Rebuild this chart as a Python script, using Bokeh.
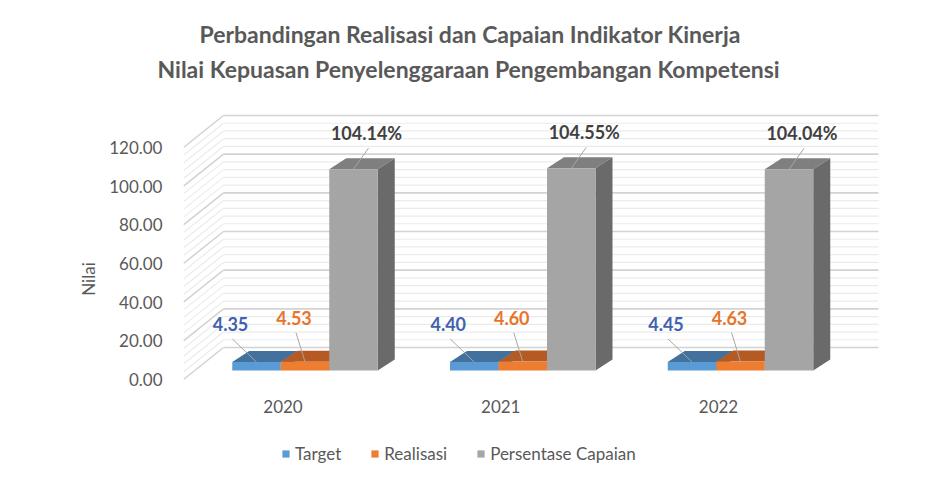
import numpy as np
from bokeh.plotting import figure
from bokeh.models import (Range1d, FixedTicker, NumeralTickFormatter, Legend,
                          LegendItem, Title, ColumnDataSource)
from bokeh.core.properties import value
from bokeh.embed import file_html
from bokeh.resources import INLINE

# ---------------- data ----------------
years = ["2020", "2021", "2022"]
target = [4.35, 4.40, 4.45]
realisasi = [4.53, 4.60, 4.63]
persentase = [104.14, 104.55, 104.04]
series_names = ["Target", "Realisasi", "Persentase Capaian"]
y_ticks = [0, 20, 40, 60, 80, 100, 120]
title_line1 = "Perbandingan Realisasi dan Capaian  Indikator Kinerja"
title_line2 = "Nilai Kepuasan Penyelenggaraan Pengembangan Kompetensi"
y_title = "Nilai"

# ---------------- layout constants (px, page coordinates) ----------------
W, H = 920, 469
PAGE = 0
FRAME_L, FRAME_R = 183, PAGE + W
FRAME_T, FRAME_B = 88, PAGE + H
X0, PITCH = 304.5, 217.75          # page x of category 0 centre, px per category
Y0, S = 379.0, 232.0 / 120.0       # page y of value 0 (front plane), px per unit
BAR_W = 48.5
BAR_LIFT = 9                        # bars stand behind the front plane
DEPTH_X, DEPTH_Y = 17, 11           # bar depth
WALL_X, WALL_Y = 40, 32             # wall depth
WALL_RIGHT = 878

def dx(px):
    return px / PITCH

def dy(px):
    return px / S

FONT = value("Lato")
TXT = "#595959"

p = figure(width=W, height=H, output_backend="svg", toolbar_location=None,
           x_axis_location=None, y_axis_location="left",
           min_border_left=FRAME_L - PAGE, min_border_right=0,
           min_border_top=FRAME_T - PAGE, min_border_bottom=0,
           x_range=Range1d(dx(FRAME_L - X0), dx(FRAME_R - X0)),
           y_range=Range1d(-dy(FRAME_B - Y0), dy(Y0 - FRAME_T)))
p.grid.visible = False
p.outline_line_color = None
p.background_fill_color = "white"

# titles: p.title is the outer line, the added one sits next to the frame
p.title.text = title_line1
t1 = p.title
t2 = Title(text=title_line2)
for t, off, st in ((t1, 16, 0), (t2, -26, 11)):
    t.align = "left"
    t.offset = off
    t.standoff = st
    t.text_font = "Lato"
    t.text_font_size = "23px"
    t.text_font_style = "bold"
    t.text_color = TXT
p.add_layout(t2, "above")

# y axis
ax = p.yaxis[0]
ax.ticker = FixedTicker(ticks=y_ticks)
ax.formatter = NumeralTickFormatter(format="0.00")
ax.axis_line_color = None
ax.major_tick_line_color = None
ax.minor_tick_line_color = None
ax.major_label_standoff = 15
ax.major_label_text_font = "Lato"
ax.major_label_text_font_size = "17px"
ax.major_label_text_color = TXT
ax.axis_label = y_title
ax.axis_label_text_font = "Lato"
ax.axis_label_text_font_size = "17px"
ax.axis_label_text_font_style = "normal"
ax.axis_label_text_color = TXT
ax.axis_label_standoff = 7

# walls (gridlines every 4 units, major every 20)
grid_vals = np.arange(0, y_ticks[-1] + 1, 4)
for major in (False, True):
    gv = [v for v in grid_vals if (v % 20 == 0) == major]
    col = "#D3D3D3" if major else "#EBEBEB"
    lw = 1.6 if major else 1.2
    n = len(gv)
    p.segment(x0=[dx(FRAME_L - X0)] * n, y0=gv,
              x1=[dx(FRAME_L + WALL_X - X0)] * n, y1=[v + dy(WALL_Y) for v in gv],
              line_color=col, line_width=lw)
    p.segment(x0=[dx(FRAME_L + WALL_X - X0)] * n, y0=[v + dy(WALL_Y) for v in gv],
              x1=[dx(WALL_RIGHT - X0)] * n, y1=[v + dy(WALL_Y) for v in gv],
              line_color=col, line_width=lw)

# bars
front_cols = ["#5B9BD5", "#ED7D31", "#A5A5A5"]
top_cols = ["#41719C", "#B45A22", "#7F7F7F"]
side_cols = ["#3E6A93", "#A9531E", "#6A6A6A"]
label_cols = ["#4062AE", "#E8742A", "#404040"]
label_off = [(-26, -38), (-11, -44), (13, -36)]
series = [target, realisasi, persentase]
bw = dx(BAR_W)
base = dy(BAR_LIFT)
ddx, ddy = dx(DEPTH_X), dy(DEPTH_Y)
legend_items = []
for k, vals in enumerate(series):
    cx = [i + (k - 1) * bw for i in range(len(years))]
    left = [c - bw / 2 for c in cx]
    right = [c + bw / 2 for c in cx]
    top = [base + v for v in vals]
    # top faces
    p.patches(xs=[[l, r, r + ddx, l + ddx] for l, r in zip(left, right)],
              ys=[[t, t, t + ddy, t + ddy] for t in top],
              fill_color=top_cols[k], line_color=None)
    # side faces
    p.patches(xs=[[r, r, r + ddx, r + ddx] for r in right],
              ys=[[base, t, t + ddy, base + ddy] for t in top],
              fill_color=side_cols[k], line_color=None)
    src = ColumnDataSource(dict(left=left, right=right, top=top, bottom=[base] * len(vals)))
    r_front = p.quad(left="left", right="right", top="top", bottom="bottom", source=src,
                     fill_color=front_cols[k], line_color=None)
    legend_items.append(LegendItem(label=series_names[k], renderers=[r_front]))

# data labels with leader lines
for k, vals in enumerate(series):
    cx = [i + (k - 1) * bw for i in range(len(years))]
    top = [base + v for v in vals]
    ox, oy = label_off[k]
    lx = [c + dx(ox) for c in cx]
    ly = [t - dy(oy) for t in top]
    p.segment(x0=[x + dx(2) for x in lx], y0=[y - dy(15) for y in ly],
              x1=cx, y1=top, line_color="#A6A6A6", line_width=1)
    txt = [f"{v:.2f}%" if k == 2 else f"{v:.2f}" for v in vals]
    p.text(x=lx, y=ly, text=txt, text_font=FONT, text_font_size="18px",
           text_font_style="bold", text_color=label_cols[k],
           text_align="center", text_baseline="middle")

# category labels
p.text(x=[i + dx(-22) for i in range(len(years))], y=[-dy(27)] * len(years), text=years,
       text_font=FONT, text_font_size="17px", text_color=TXT,
       text_align="center", text_baseline="middle")

legend = Legend(items=legend_items, orientation="horizontal",
                location=(98, 5), padding=0, margin=0, spacing=29,
                glyph_width=9, glyph_height=9, label_standoff=5,
                label_text_font="Lato", label_text_font_size="17px",
                label_text_color=TXT, border_line_color=None,
                background_fill_alpha=0)
p.add_layout(legend)

open("out.html", "w").write(file_html(p, INLINE))
